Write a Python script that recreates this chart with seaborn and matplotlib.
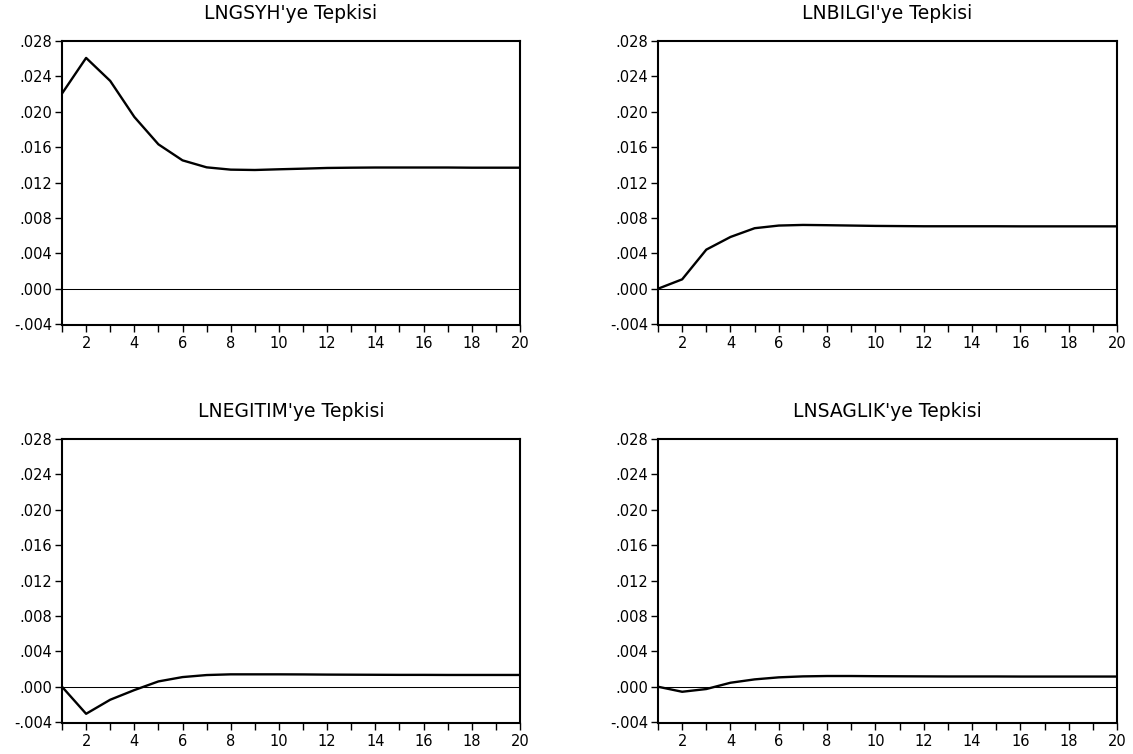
import numpy as np
import pandas as pd
import matplotlib
matplotlib.use("Agg")
import matplotlib.pyplot as plt
import seaborn as sns
from matplotlib.ticker import FuncFormatter, FixedLocator

sns.set_style("ticks")
plt.rcParams['font.family'] = ['DejaVu Sans']

periods = list(range(1, 21))

titles = ["LNGSYH'ye Tepkisi", "LNBILGI'ye Tepkisi",
          "LNEGITIM'ye Tepkisi", "LNSAGLIK'ye Tepkisi"]

resp_lngsyh = [0.02206, 0.02609, 0.02349, 0.01942, 0.01632, 0.01451, 0.01372,
               0.01346, 0.01342, 0.01350, 0.01357, 0.01365, 0.01368, 0.01370,
               0.01370, 0.01370, 0.01370, 0.01368, 0.01368, 0.01368]
resp_lnbilgi = [0.00000, 0.00106, 0.00442, 0.00585, 0.00684, 0.00714, 0.00721,
                0.00718, 0.00714, 0.00710, 0.00708, 0.00706, 0.00706, 0.00706,
                0.00706, 0.00705, 0.00705, 0.00705, 0.00705, 0.00705]
resp_lnegitim = [0.00000, -0.00306, -0.00147, -0.00038, 0.00060, 0.00109, 0.00132,
                 0.00140, 0.00140, 0.00140, 0.00139, 0.00137, 0.00136, 0.00135,
                 0.00134, 0.00134, 0.00133, 0.00133, 0.00133, 0.00133]
resp_lnsaglik = [0.00000, -0.00057, -0.00026, 0.00045, 0.00083, 0.00106, 0.00117,
                 0.00121, 0.00121, 0.00119, 0.00118, 0.00117, 0.00116, 0.00116,
                 0.00116, 0.00115, 0.00115, 0.00115, 0.00115, 0.00115]

series = [resp_lngsyh, resp_lnbilgi, resp_lnegitim, resp_lnsaglik]
y_ticks = [-0.004, 0.000, 0.004, 0.008, 0.012, 0.016, 0.020, 0.024, 0.028]

W, H = 1133, 754
fig = plt.figure(figsize=(W / 100, H / 100), dpi=100)

# axes rectangles in pixels: (left, top, right, bottom)
rects = [(62, 41, 520, 325), (658, 41, 1117, 325),
         (62, 439, 520, 723), (658, 439, 1117, 723)]


def yfmt(v, pos):
    s = f"{v:.3f}"
    if s.startswith("-0"):
        s = "-" + s[2:]
    elif s.startswith("0"):
        s = s[1:]
    if s == "-.000":
        s = ".000"
    return s


def xfmt(v, pos):
    iv = int(round(v))
    return str(iv) if iv % 2 == 0 else ""


for (l, t, r, b), title, vals in zip(rects, titles, series):
    ax = fig.add_axes([l / W, 1 - b / H, (r - l) / W, (b - t) / H])
    df = pd.DataFrame({"period": periods, "value": vals})
    ax.axhline(0, color="black", linewidth=0.75, zorder=1)
    sns.lineplot(data=df, x="period", y="value", ax=ax, color="black",
                 linewidth=1.7, zorder=3)
    ax.set_xlim(1, 20)
    ax.set_ylim(-0.0041, 0.028)
    ax.xaxis.set_major_locator(FixedLocator(periods))
    ax.xaxis.set_major_formatter(FuncFormatter(xfmt))
    ax.yaxis.set_major_locator(FixedLocator(y_ticks))
    ax.yaxis.set_major_formatter(FuncFormatter(yfmt))
    ax.set_xlabel("")
    ax.set_ylabel("")
    ax.set_title(title, fontsize=13.5, pad=16, color="black")
    for sp in ax.spines.values():
        sp.set_visible(True)
        sp.set_linewidth(1.5)
        sp.set_color("black")
    ax.tick_params(axis="both", direction="out", length=5, width=1.0,
                   color="black", labelsize=10.5, labelcolor="black", pad=2)
    ax.tick_params(axis="x", pad=3)
    ax.grid(False)

fig.savefig("out.png", dpi=100, facecolor="white")
